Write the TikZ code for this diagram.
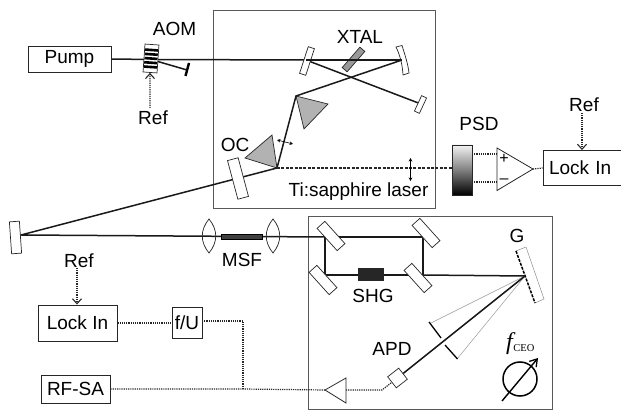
\documentclass[tikz,border=0pt]{standalone}
\usepackage{fontspec}
\setmainfont{Liberation Sans}
\newfontfamily\serifcap{Liberation Serif}
\usetikzlibrary{arrows.meta,calc}
\tikzset{
  x=1pt,y=-1pt,
  every node/.style={font=\fontsize{19}{20}\selectfont,inner sep=0pt},
  enclosure/.style={draw=black!65,line width=0.9pt,fill=none},
  instr/.style={draw=black!85,line width=0.9pt,fill=white},
  optic/.style={draw=black!85,line width=0.7pt,fill=white},
  beam/.style={line width=1.5pt,black!90},
  thinbeam/.style={line width=0.5pt,black!40},
  signal/.style={line width=1.2pt,dash pattern=on 1.2pt off 1pt,black!85},
  dashbeam/.style={line width=1.2pt,dash pattern=on 3pt off 1.4pt,black!85},
  sigarrow/.style={signal,-{Straight Barb[length=5pt,width=9pt,line width=1.1pt]}},
  prism/.style={draw=black!85,line width=0.7pt,fill=black!30},
  amp/.style={draw=black!85,line width=0.8pt,fill=white},
  smallarrow/.style={line width=0.6pt,{Stealth[length=3.5pt,width=3.5pt]}-{Stealth[length=3.5pt,width=3.5pt]}},
}
\begin{document}
\begin{tikzpicture}
\useasboundingbox (0,0) rectangle (621,411);
% enclosures
\draw[enclosure] (213,10) rectangle (435,208);
\draw[enclosure] (308,216) rectangle (552,409);
% named points
\coordinate (pumpIn) at (151,59.5);
\coordinate (mL) at (306,60);
\coordinate (mR) at (402,60);
\coordinate (mE) at (421,104);
\coordinate (pA) at (296,96);
\coordinate (pB) at (277,168);
\coordinate (fold) at (21,235);
\coordinate (t1) at (325,237);
\coordinate (t2) at (423,237);
\coordinate (t3) at (423,275);
\coordinate (t4) at (325,275);
\coordinate (gf) at (525,276);
\coordinate (dumpEnd) at (187,70);
\coordinate (slitA) at (431,323);
\coordinate (slitB) at (457,359);
\coordinate (sj) at (243,389);
\coordinate (sk) at (243,321);
\coordinate (sb) at (382,390);
% prisms
\draw[prism] (296,96) -- (328,104) -- (304,129) -- cycle;
\draw[prism] (272,135) -- (277,168) -- (245,158) -- cycle;
% beams
\draw[beam] (111,59) -- (pumpIn) -- (mL) -- (mE);
\draw[beam] (mR) -- (pA) -- (pB) -- (fold) -- (t1);
\draw[beam] (pumpIn) -- (dumpEnd);
\draw[beam] (t1) -- (t2) -- (t3) -- (t4) -- cycle;
\draw[beam] (t3) -- (gf);
\draw[dashbeam] (pB) -- (452,168);
% Pump and AOM
\node[instr,minimum width=83pt,minimum height=26pt] (pump) at (69.5,59) {Pump};
\begin{scope}[shift={(151,58.5)},rotate=-4]
  \node[optic,minimum width=14pt,minimum height=28pt,rotate=-4] (aom) at (0,0) {};
  \foreach \yy in {-8.5,-4.2,0,4.2,8.5}
    \draw[line width=2.6pt] (-6.5,\yy) -- (6.5,\yy);
\end{scope}
\draw[line width=2.4pt] (189,63) -- (185.5,76);
\node (aomlabel) at (174.5,29) {AOM};
\node (ref1) at (153,118) {Ref};
\draw[sigarrow] (150,108) -- (aom.south);
% cavity optics
\node[optic,minimum width=6.5pt,minimum height=28pt,rotate=-18] (ml) at (307,61) {};
\draw[optic] (396,47) -- (402,45.5) .. controls (405,55) and (408,64) .. (409,73) -- (403,75) .. controls (402.5,65) and (400,55) .. (396,47) -- cycle;
\node[optic,minimum width=5.5pt,minimum height=17pt,rotate=-25] (me) at (420.5,104.5) {};
\node[optic,fill=black!40,minimum width=6.5pt,minimum height=27pt,rotate=-41] (xtal) at (353.5,59.5) {};
\draw[beam] (mL) -- (mR);
\node (xtallabel) at (360,37) {XTAL};
\node[optic,minimum width=11pt,minimum height=40pt,rotate=15] (oc) at (238,178.5) {};
\node (oclabel) at (235,145) {OC};
\draw[smallarrow] (277,140) -- (293,144);
\draw[smallarrow] (410.5,158) -- (410.5,181);
\node (tilabel) at (358.5,192) {Ti:sapphire laser};
% PSD and lock-in
\node[draw=black!85,line width=0.7pt,minimum width=20pt,minimum height=50pt,top color=black!5,bottom color=black,middle color=black!50] (psd) at (462,170) {};
\node (psdlabel) at (479,124) {PSD};
\draw[amp] (497,148) -- (533,169) -- (497,190.5) -- cycle;
\node[font=\fontsize{16}{16}\selectfont] (plus) at (504,159) {+};
\node[font=\fontsize{16}{16}\selectfont] (minus) at (504,181) {--};
\coordinate (ampT) at (497,154);
\coordinate (ampB) at (497,182);
\coordinate (ampO) at (533,169);
\draw[signal] (472,154) -- (ampT);
\draw[signal] (472,182) -- (ampB);
\node[instr,minimum width=78pt,minimum height=35pt,text width=74pt,align=left] (lockR) at (582,168) {\hspace*{4pt}Lock In};
\draw[signal] (ampO) -- (lockR.west);
\node (ref2) at (584,105) {Ref};
\draw[sigarrow] (582,113) -- (lockR.north -| 582,0);
% fold mirror and fibre
\node[optic,minimum width=10pt,minimum height=32pt,rotate=4] (fm) at (15.5,237.5) {};
\draw[optic,fill=none] (209,219) .. controls (200,230) and (200,242) .. (209,253) .. controls (218,242) and (218,230) .. (209,219) -- cycle;
\draw[optic,fill=none] (273,219) .. controls (264,230) and (264,242) .. (273,253) .. controls (282,242) and (282,230) .. (273,219) -- cycle;
\node[draw=black,fill=black!75,minimum width=41pt,minimum height=5.5pt] (msf) at (241.5,236.5) {};
\node (msflabel) at (242,259.5) {MSF};
% delay-line mirrors
\foreach \nm/\cx/\cy in {a/331/236,b/426/233,c/323/280,d/418/278}
  \node[optic,minimum width=30pt,minimum height=10.5pt,rotate=-48] (mir\nm) at (\cx,\cy) {};
\node[fill=black!85,minimum width=26pt,minimum height=12.5pt] (shg) at (371,274.5) {};
\node (shglabel) at (373,296) {SHG};
% grating
\draw[thinbeam,draw=black!45] (516,251) -- (526,247) -- (544,299) -- (535,303);
\draw[line width=1.5pt,dash pattern=on 3pt off 1.2pt] (516,251) -- (535,303);
\node (glabel) at (517,236) {G};
% detection
\draw[thinbeam] (gf) -- (slitA);
\draw[thinbeam] (gf) -- (slitB);
\node[optic,minimum width=14pt,minimum height=14pt,rotate=38] (apd) at (397.5,378) {};
\draw[beam] (gf) -- (apd);
\draw[line width=1.3pt] (429,322) -- (441,338);
\draw[line width=1.3pt] (445,345) -- (457.5,359);
\node (apdlabel) at (392,349) {APD};
\node[anchor=base west,font=\fontsize{24}{24}\selectfont] (fceo) at (506,350) {\serifcap\itshape f\kern0.5pt{\upshape\fontsize{10.5}{10.5}\selectfont\raisebox{-1.5pt}{CEO}}};
\node[draw,circle,line width=1.5pt,minimum size=34pt] (meter) at (520,379) {};
\draw[line width=1.4pt,-{Straight Barb[length=7pt,width=9pt,line width=1.3pt]}] (502,401) -- (538,358);
% amplifier and electronics
\draw[amp] (346,378) -- (325,390) -- (346,403) -- cycle;
\coordinate (ampL) at (325,390);
\coordinate (ampIn) at (346,390);
\draw[signal] (ampIn) -- (sb) -- (apd);
\node[instr,minimum width=69pt,minimum height=28pt] (rfsa) at (75.5,389) {RF-SA};
\node[instr,minimum width=79pt,minimum height=36pt] (lockL) at (77.5,323) {Lock In};
\node[instr,minimum width=30pt,minimum height=31pt] (fu) at (187,322.5) {f/U};
\draw[signal] (rfsa.east) -- (sj) -- (ampL);
\draw[signal] (sj) -- (sk) -- (sk -| fu.east);
\draw[signal] (lockL.east) -- (lockL.east -| fu.west);
\node (ref3) at (79,261) {Ref};
\draw[sigarrow] (77,268) -- (lockL.north -| 77,0);
\end{tikzpicture}
\end{document}
